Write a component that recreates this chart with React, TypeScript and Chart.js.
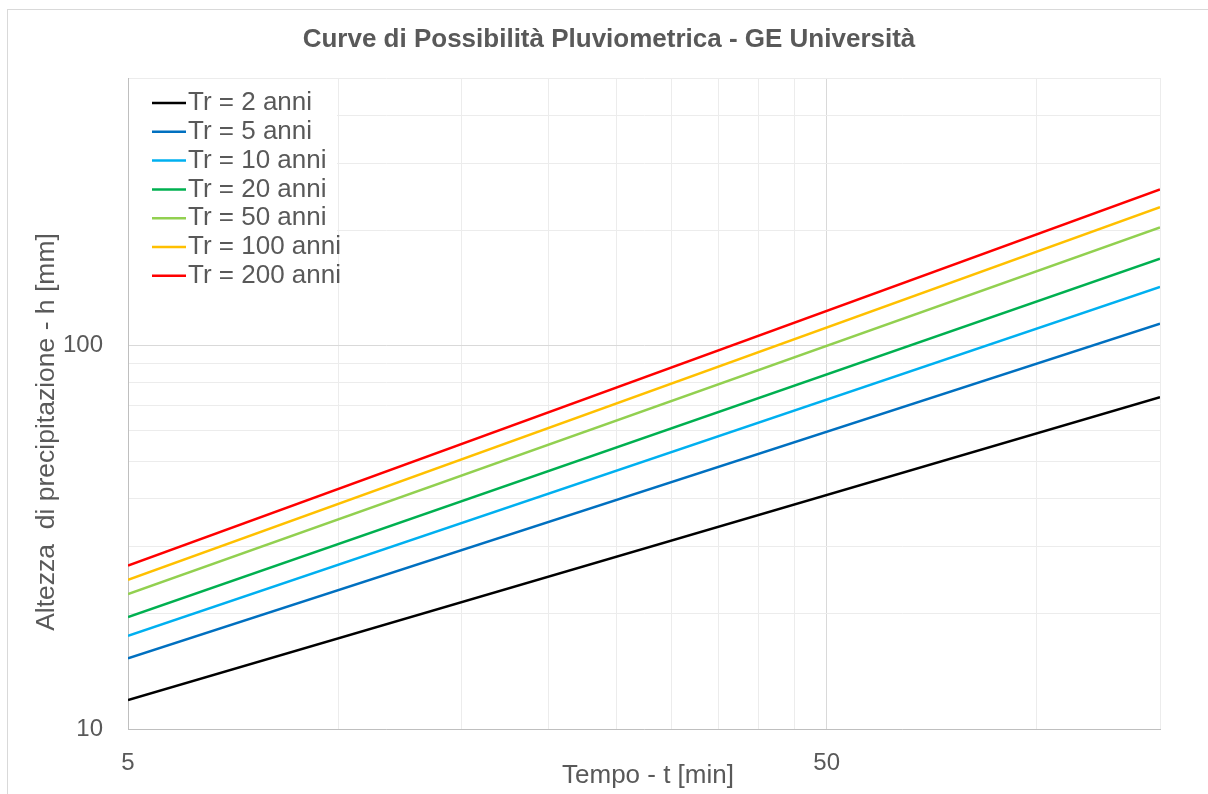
import React, { useEffect, useRef } from "react";
import { Chart, registerables } from "chart.js";

Chart.register(...registerables);

// ---- Data ----
const chartTitle = "Curve di Possibilità Pluviometrica - GE Università";
const xTitle = "Tempo - t [min]";
const yTitle = "Altezza  di precipitazione - h [mm]";

const durations = [5, 150]; // t [min]
const seriesNames = [
  "Tr = 2 anni",
  "Tr = 5 anni",
  "Tr = 10 anni",
  "Tr = 20 anni",
  "Tr = 50 anni",
  "Tr = 100 anni",
  "Tr = 200 anni",
];
const tr2 = [11.9, 73.4];
const tr5 = [15.3, 114.3];
const tr10 = [17.5, 142.4];
const tr20 = [19.6, 168.8];
const tr50 = [22.5, 203.8];
const tr100 = [24.5, 230.0];
const tr200 = [26.7, 255.9];
const seriesValues = [tr2, tr5, tr10, tr20, tr50, tr100, tr200];
const seriesColors = ["#000000", "#0070C0", "#00B0F0", "#00B050", "#92D050", "#FFC000", "#FF0000"];

const xGridValues = [5, 10, 15, 20, 25, 30, 35, 40, 45, 50, 100, 150];
const xLabelValues = [5, 50];
const yGridValues = [10, 20, 30, 40, 50, 60, 70, 80, 90, 100, 200, 300, 400, 500];
const yLabelValues = [10, 100];

const FONT = "'Liberation Sans', Arial, sans-serif";
const TEXT = "#595959";

const decorPlugin = {
  id: "decor",
  beforeDraw(chart: any) {
    const ctx = chart.ctx;
    ctx.save();
    ctx.fillStyle = "#ffffff";
    ctx.fillRect(0, 0, chart.width, chart.height);
    ctx.strokeStyle = "#d9d9d9";
    ctx.lineWidth = 1;
    ctx.strokeRect(7.5, 9.5, chart.width + 20, chart.height + 20);
    ctx.restore();
  },
  afterDraw(chart: any) {
    const ctx = chart.ctx;
    const area = chart.chartArea;
    ctx.save();
    // title
    ctx.fillStyle = TEXT;
    ctx.font = `bold 26px ${FONT}`;
    ctx.textAlign = "center";
    ctx.textBaseline = "middle";
    ctx.fillText(chartTitle, 609, 40);
    // axis titles
    ctx.font = `26px ${FONT}`;
    ctx.fillText(xTitle, 648, 776);
    ctx.save();
    ctx.translate(47, 432);
    ctx.rotate(-Math.PI / 2);
    ctx.font = `26.5px ${FONT}`;
    ctx.fillText(yTitle, 0, 0);
    ctx.restore();
    // legend
    ctx.fillStyle = "#ffffff";
    ctx.fillRect(area.left + 1, area.top + 1, 208, 221);
    ctx.font = `26px ${FONT}`;
    ctx.textAlign = "left";
    ctx.textBaseline = "middle";
    chart.data.datasets.forEach((ds: any, i: number) => {
      const y = 103 + i * 28.8;
      ctx.strokeStyle = ds.borderColor;
      ctx.lineWidth = 2.5;
      ctx.beginPath();
      ctx.moveTo(152, y);
      ctx.lineTo(186, y);
      ctx.stroke();
      ctx.fillStyle = TEXT;
      ctx.fillText(ds.label, 188, y);
    });
    ctx.restore();
  },
};

export default function App() {
  const ref = useRef<HTMLCanvasElement | null>(null);
  useEffect(() => {
    if (!ref.current) return;
    const datasets = seriesNames.map((name, i) => ({
      label: name,
      data: durations.map((t, j) => ({ x: t, y: seriesValues[i][j] })),
      borderColor: seriesColors[i],
      backgroundColor: seriesColors[i],
      borderWidth: 2.5,
      pointRadius: 0,
      fill: false,
      tension: 0,
    }));
    const chart = new Chart(ref.current, {
      type: "line",
      data: { datasets },
      plugins: [decorPlugin],
      options: {
        animation: false,
        responsive: false,
        maintainAspectRatio: false,
        layout: { padding: { top: 78, right: 48, bottom: 0, left: 0 } },
        plugins: {
          legend: { display: false },
          title: { display: false },
          tooltip: { enabled: false },
        },
        scales: {
          x: {
            type: "logarithmic",
            min: 5,
            max: 150,
            afterBuildTicks: (s: any) => {
              s.ticks = xGridValues.map((v) => ({ value: v }));
            },
            afterFit: (s: any) => {
              s.height = 65;
            },
            ticks: {
              autoSkip: false,
              maxRotation: 0,
              padding: 20,
              color: TEXT,
              font: { size: 24, family: FONT },
              callback: (v: any) => (xLabelValues.includes(Number(v)) ? String(v) : ""),
            },
            grid: {
              drawTicks: false,
              color: (c: any) => (c.tick && c.tick.value === 50 ? "#d9d9d9" : "#ececec"),
              lineWidth: 1,
            },
            border: { color: "#bfbfbf" },
          },
          y: {
            type: "logarithmic",
            min: 10,
            max: 500,
            afterBuildTicks: (s: any) => {
              s.ticks = yGridValues.map((v) => ({ value: v }));
            },
            afterFit: (s: any) => {
              s.width = 128;
            },
            ticks: {
              autoSkip: false,
              padding: 25,
              color: TEXT,
              font: { size: 24, family: FONT },
              callback: (v: any) => (yLabelValues.includes(Number(v)) ? String(v) : ""),
            },
            grid: {
              drawTicks: false,
              color: (c: any) => (c.tick && c.tick.value === 100 ? "#d9d9d9" : "#ececec"),
              lineWidth: 1,
            },
            border: { color: "#bfbfbf" },
          },
        },
      },
    } as any);
    return () => chart.destroy();
  }, []);
  return (
    <div style={{ position: "absolute", left: 0, top: 0, width: 1208, height: 794 }}>
      <canvas ref={ref} width={1208} height={794} style={{ display: "block" }} />
    </div>
  );
}
